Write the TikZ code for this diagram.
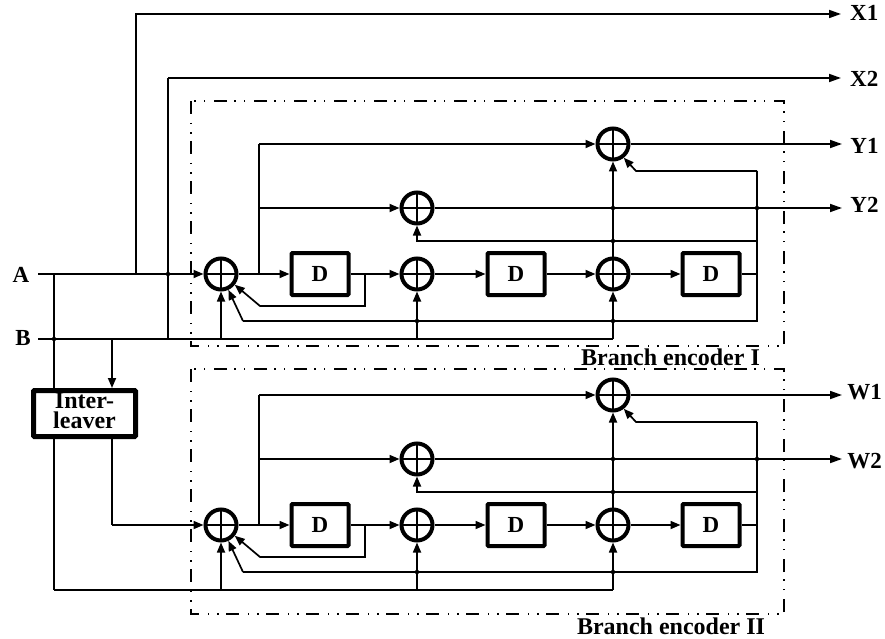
\documentclass[tikz,border=0pt]{standalone}
\usepackage{fontspec}
\setmainfont{Liberation Serif}
\usetikzlibrary{arrows.meta}
\tikzset{
	sig/.style={line width=1.7pt},
	bus/.style={line width=2.1pt},
	arr/.style={-{Triangle[length=12pt,width=8pt]}},
	arrs/.style={-{Triangle[length=10pt,width=8pt]}},
	lab/.style={font=\fontsize{23}{20}\selectfont\bfseries,inner sep=9pt},
	title/.style={font=\fontsize{24}{20}\selectfont\bfseries,inner sep=0pt},
	sumnode/.style={circle,draw,line width=4pt,minimum size=31pt,inner sep=0pt,
		path picture={\draw[line width=1.3pt] (path picture bounding box.north) -- (path picture bounding box.south)
		(path picture bounding box.west) -- (path picture bounding box.east);}},
	delay/.style={rectangle,draw,rounded corners=1pt,line width=4pt,minimum width=57pt,minimum height=42pt,
		inner sep=0pt,font=\fontsize{23}{20}\selectfont\bfseries},
	dashbox/.style={line width=1.7pt,dash pattern=on 13pt off 9pt on 1.3pt off 8pt on 1.3pt off 7.4pt}
}
\newcommand{\branchenc}[6]{
	\begin{scope}[shift={(0,#2)},name prefix=#1-]
		%ADDERS
		\node[sumnode](S1) at (221,274){};
		\node[sumnode](S2) at (417,274){};
		\node[sumnode](S3) at (613,274){};
		\node[sumnode](Sa) at (613,144){};
		\node[sumnode](Sb) at (417,208){};
		%DELAYS
		\node[delay](D1) at (320,274){D};
		\node[delay](D2) at (516,274){D};
		\node[delay](D3) at (711,274){D};
		%OUTPUTS
		\node[lab](Oa) at (864.5,#4){#3};
		\node[lab](Ob) at (864.5,#6){#5};
		\coordinate(Ea) at (842,144);
		\coordinate(Eb) at (842,208);
		%JUNCTIONS
		\coordinate(tap) at (259,274);
		\coordinate(tapa) at (259,144);
		\coordinate(tapb) at (259,208);
		\coordinate(fbd) at (365,274);
		\coordinate(fbe) at (365,306);
		\coordinate(fbf) at (260,306);
		\coordinate(end) at (757,274);
		\coordinate(top) at (757,171);
		\coordinate(topb) at (636,171);
		\coordinate(mid) at (757,241);
		\coordinate(midb) at (417,241);
		\coordinate(low) at (757,321);
		\coordinate(lowb) at (243,321);
		\coordinate(bus1) at (221,339);
		\coordinate(bus2) at (417,339);
		\coordinate(bus3) at (613,339);
		\coordinate(ja) at (757,208);
		\coordinate(jb) at (613,208);
		\coordinate(jc) at (613,241);
		\coordinate(jd) at (613,321);
		\coordinate(je) at (417,321);
		%FORWARD PATH
		\draw[sig,arrs] (S1) -- (D1);
		\draw[sig,arrs] (D1) -- (S2);
		\draw[sig,arrs] (S2) -- (D2);
		\draw[sig,arrs] (D2) -- (S3);
		\draw[sig,arrs] (S3) -- (D3);
		\draw[sig] (D3) -- (end);
		\draw[sig] (tap) -- (tapb) -- (tapa);
		\draw[sig,arrs] (tapa) -- (Sa);
		\draw[sig,arrs] (tapb) -- (Sb);
		\draw[sig,arrs] (S3) -- (Sa);
		\draw[sig,arr] (Sa) -- (Ea);
		\draw[sig,arr] (Sb) -- (Eb);
		%FEEDBACK
		\draw[sig] (top) -- (low) -- (lowb);
		\draw[sig,arrs] (top) -- (topb) -- (Sa.-52);
		\draw[sig,arrs] (mid) -- (midb) -- (Sb);
		\draw[sig,arrs] (lowb) -- (S1.-65);
		\draw[sig,arrs] (fbd) -- (fbe) -- (fbf) -- (S1.-38);
		%FROM THE BUS
		\draw[sig,arrs] (bus1) -- (S1);
		\draw[sig,arrs] (bus2) -- (S2);
		\draw[sig,arrs] (bus3) -- (S3);
		\fill (ja) circle (2.2);
		\fill (jb) circle (2.2);
		\fill (jc) circle (2.2);
		\fill (jd) circle (2.2);
		\fill (je) circle (2.2);
	\end{scope}
}

\begin{document}
\begin{tikzpicture}[x=1pt,y=-1pt]
	\useasboundingbox (0,0) rectangle (885,639);
	%BOXES
	\draw[dashbox] (191,101) rectangle (784,346);
	\draw[dashbox] (191,369) rectangle (784,614);
	\node[title](titleA) at (670.5,357){Branch encoder I};
	\node[title](titleB) at (671,626){Branch encoder II};
	\branchenc{up}{0}{Y1}{146}{Y2}{205}
	\branchenc{lo}{251}{W1}{141}{W2}{210.5}
	%INPUTS
	\node[lab](A) at (21,275){A};
	\node[lab](B) at (23,338){B};
	\node[lab,anchor=west](X1) at (841,13){X1};
	\node[lab,anchor=west](X2) at (841,79){X2};
	\node[rectangle,draw,rounded corners=1pt,line width=5pt,minimum width=102pt,minimum height=46pt,inner sep=0pt,
		font=\fontsize{24}{20}\selectfont\bfseries,align=center,text depth=5pt](IL) at (84.5,413.5){Inter-\\leaver};
	\coordinate(Aa) at (38,274);
	\coordinate(Ab) at (54,274);
	\coordinate(Ac) at (136,274);
	\coordinate(Ad) at (136,14);
	\coordinate(Ae) at (168,274);
	\coordinate(Ba) at (38,339);
	\coordinate(Bb) at (54,339);
	\coordinate(Bc) at (112,339);
	\coordinate(Bd) at (168,339);
	\coordinate(Be) at (168,78);
	\coordinate(ILa) at (54,388);
	\coordinate(ILb) at (112,388);
	\coordinate(ILc) at (54,439);
	\coordinate(ILd) at (112,439);
	\coordinate(Ca) at (54,590);
	\coordinate(Cb) at (112,525);
	%WIRES
	\draw[sig,arrs] (Aa) -- (up-S1);
	\draw[sig] (Ab) -- (ILa);
	\draw[sig,arr] (Ac) -- (Ad) -- (Ad -| X1.west);
	\draw[bus] (Ba) -- (up-bus3);
	\draw[sig] (Bd) -- (Be);
	\draw[sig,arr] (Be) -- (Be -| X2.west);
	\draw[sig,arrs] (Bc) -- (ILb);
	\draw[sig] (ILc) -- (Ca);
	\draw[bus] (Ca) -- (lo-bus3);
	\draw[sig] (ILd) -- (Cb);
	\draw[sig,arrs] (Cb) -- (lo-S1);
	\fill (Ae) circle (2.2);
	\fill (Bb) circle (2.2);
\end{tikzpicture}
\end{document}
